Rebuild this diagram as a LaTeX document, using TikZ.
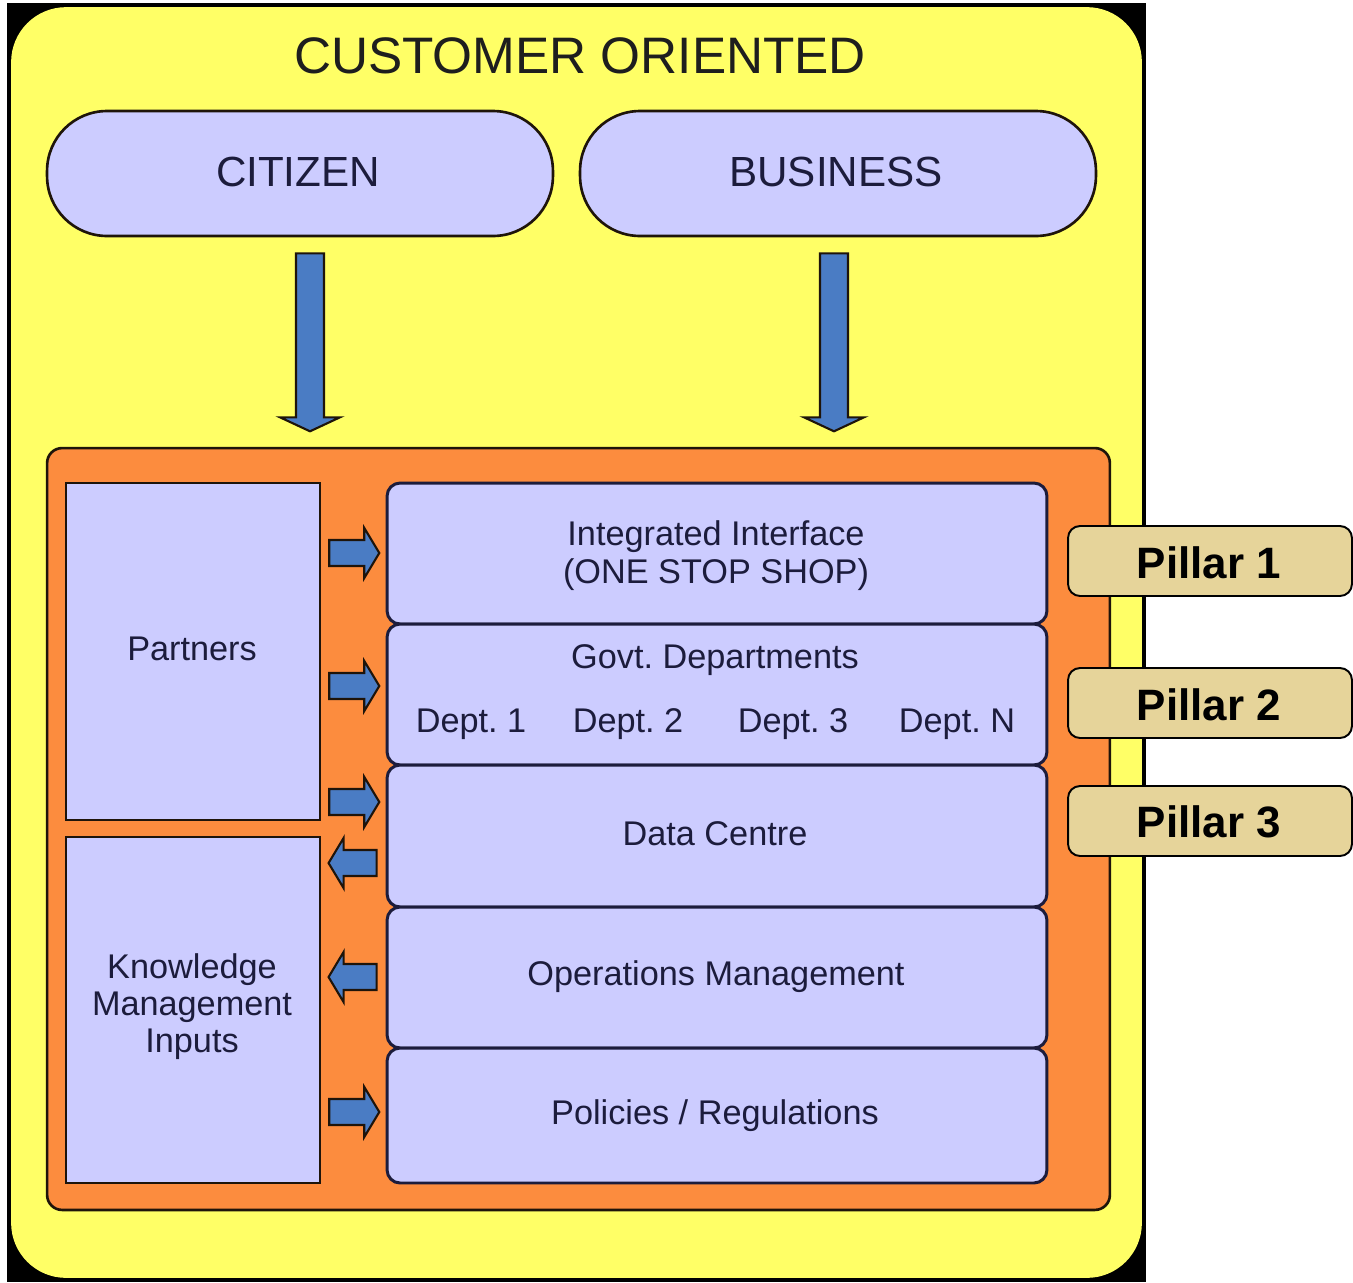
\documentclass[tikz,border=0pt]{standalone}
\usepackage{fontspec}
\setmainfont{Liberation Sans}
\usetikzlibrary{calc}
\frenchspacing

\definecolor{panelyellow}{RGB}{255,255,102}
\definecolor{coreorange}{RGB}{252,140,62}
\definecolor{lav}{RGB}{204,204,255}
\definecolor{navy}{RGB}{28,28,60}
\definecolor{arrblue}{RGB}{74,124,196}
\definecolor{pillartan}{RGB}{230,212,154}
\definecolor{edgedark}{RGB}{30,20,10}

\begin{document}
\begin{tikzpicture}[x=0.02cm,y=-0.02cm,
  pill/.style={draw=edgedark, line width=1.5pt, fill=lav, rounded corners=1.2cm,
    minimum height=2.5cm, inner sep=0pt},
  sidebox/.style={draw=edgedark, line width=1.5pt, fill=lav, minimum width=5.08cm, inner sep=0pt},
  layer/.style={draw=navy, line width=1.7pt, fill=lav, rounded corners=0.26cm,
    minimum width=13.2cm, inner sep=0pt},
  pillar/.style={draw=black, line width=1.1pt, fill=pillartan, rounded corners=0.24cm,
    minimum width=5.68cm, minimum height=1.4cm, inner sep=0pt},
  pillartext/.style={anchor=base, text=black, font=\fontsize{25}{30}\selectfont\bfseries},
  txt/.style={anchor=base, text=navy, inner sep=0pt, align=center,
    font=\fontsize{19.5}{21.4}\selectfont},
  blk/.style={draw=edgedark, line width=1.2pt, fill=arrblue, line join=miter},
]
\useasboundingbox (0,0) rectangle (1353,1282);

% dark backdrop and the yellow customer panel
\fill[black] (7,3) rectangle (1146,1282);
\node[fill=panelyellow, rounded corners=1.1cm, minimum width=22.62cm, minimum height=25.42cm,
      inner sep=0pt] (panel) at (576.5,642.5) {};
\node[anchor=base, text={rgb,255:red,30;green,30;blue,30}, inner sep=0pt,
      font=\fontsize{29.2}{34}\selectfont] (title) at (580,73) {CUSTOMER ORIENTED};

% customer groups
\node[pill, minimum width=10.12cm] (cit) at (300,173.5) {};
\node[pill, minimum width=10.32cm] (bus) at (838,173.5) {};
\node[anchor=base, text=navy, inner sep=0pt, font=\fontsize{24}{28}\selectfont] (citlbl) at (298,186) {CITIZEN};
\node[anchor=base, text=navy, inner sep=0pt, font=\fontsize{24}{28}\selectfont] (buslbl) at (836,186) {BUSINESS};

% orange service core
\node[draw=edgedark, line width=1.5pt, fill=coreorange, rounded corners=0.3cm,
      minimum width=21.26cm, minimum height=15.24cm, inner sep=0pt] (core) at (578.5,829) {};

% arrows from the customer groups into the core
\path (cit.south) ++(10,16) coordinate (cita);
\path (bus.south) ++(-4,16) coordinate (busa);
\draw[blk] (cita) ++(-14,0) -- ++(28,0) -- ++(0,164) -- ++(16,0) -- ++(-30,14)
  -- ++(-30,-14) -- ++(16,0) -- cycle;
\draw[blk] (busa) ++(-14,0) -- ++(28,0) -- ++(0,164) -- ++(16,0) -- ++(-30,14)
  -- ++(-30,-14) -- ++(16,0) -- cycle;

% side boxes
\node[sidebox, minimum height=6.74cm] (partners) at (193,651.5) {};
\node[sidebox, minimum height=6.92cm] (know) at (193,1010) {};
\node[txt] (partlbl) at (192,660) {Partners};
\node[txt] (knowlbl1) at (192,978) {Knowledge};
\node[txt] (knowlbl2) at (192,1015) {Management};
\node[txt] (knowlbl3) at (192,1052) {Inputs};

% layered stack
\node[layer, minimum height=2.82cm] (L1) at (717,553.5) {};
\node[layer, minimum height=2.82cm] (L2) at (717,694.5) {};
\node[layer, minimum height=2.84cm] (L3) at (717,836) {};
\node[layer, minimum height=2.82cm] (L4) at (717,977.5) {};
\node[layer, minimum height=2.70cm] (L5) at (717,1115.5) {};

\node[txt] (l1a) at (716,545) {Integrated Interface};
\node[txt] (l1b) at (716,583) {(ONE STOP SHOP)};
\node[txt] (l2) at (715,668) {Govt. Departments};
\node[txt] (d1) at (471,732) {Dept. 1};
\node[txt] (d2) at (628,732) {Dept. 2};
\node[txt] (d3) at (793,732) {Dept. 3};
\node[txt] (dn) at (957,732) {Dept. N};
\node[txt] (l3) at (715,845) {Data Centre};
\node[txt] (l4) at (716,985) {Operations Management};
\node[txt] (l5) at (715,1124) {Policies / Regulations};

% small arrows between the side boxes and the stack
\foreach \cy in {553,686,802,1112}{
  \draw[blk] ($(partners.east |- 0,\cy)+(8,-13)$) -- ++(35,0) -- ++(0,-12) -- ++(15,25)
    -- ++(-15,25) -- ++(0,-12) -- ++(-35,0) -- cycle;
}
\foreach \cy in {863,977}{
  \draw[blk] ($(L1.west |- 0,\cy)+(-9,-13)$) -- ++(-33,0) -- ++(0,-12) -- ++(-15,25)
    -- ++(15,25) -- ++(0,-12) -- ++(33,0) -- cycle;
}

% pillar tags
\node[pillar] (p1) at (1210,561) {};
\node[pillar] (p2) at (1210,703) {};
\node[pillar] (p3) at (1210,821) {};
\node[pillartext] (p1t) at (1209,578) {Pillar 1};
\node[pillartext] (p2t) at (1209,720) {Pillar 2};
\node[pillartext] (p3t) at (1209,837) {Pillar 3};
\end{tikzpicture}
\end{document}
